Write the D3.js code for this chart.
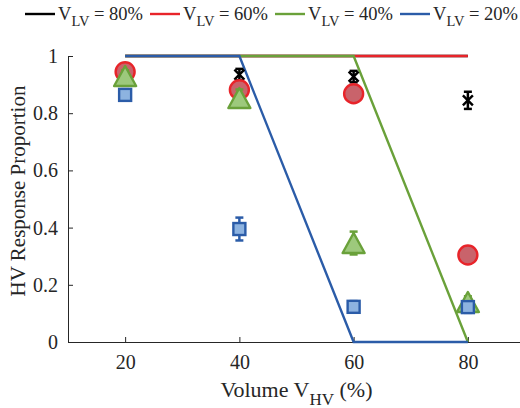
<!DOCTYPE html>
<html>
<head>
<meta charset="utf-8">
<script src="https://cdn.jsdelivr.net/npm/d3@7"></script>
<style>
  body { margin: 0; background: #fff; }
  text { font-family: "Liberation Serif", "Times New Roman", serif; fill: #262626; }
</style>
</head>
<body>
<div id="chart"></div>
<script>
// data
let volumes = [20, 40, 60, 80];
let seriesNames = ["80%", "60%", "40%", "20%"];

// model lines (step-down curves)
let line80 = [1, 1, 1, 1];
let line60 = [1, 1, 1, 1];
let line40 = [1, 1, 1, 0];
let line20 = [1, 1, 0, 0];

// measured proportions
let resp80 = [0.95, 0.935, 0.928, 0.845];
let resp60 = [0.945, 0.882, 0.868, 0.304];
let resp40 = [0.93, 0.853, 0.346, 0.14];
let resp20 = [0.864, 0.395, 0.123, 0.122];

// error bar half widths
let err80 = [0.02, 0.02, 0.02, 0.03];
let err60 = [0.02, 0.02, 0.02, 0.03];
let err40 = [0.02, 0.03, 0.04, 0.02];
let err20 = [0.02, 0.04, 0.02, 0.02];

let yTicks = [0, 0.2, 0.4, 0.6, 0.8, 1];

let series = [
  {name: seriesNames[0], line: line80, resp: resp80, err: err80, color: "#000000", fill: "none", marker: "x"},
  {name: seriesNames[1], line: line60, resp: resp60, err: err60, color: "#e8242a", fill: "#c9636b", marker: "circle"},
  {name: seriesNames[2], line: line40, resp: resp40, err: err40, color: "#6aa13a", fill: "#9dc97c", marker: "triangle"},
  {name: seriesNames[3], line: line20, resp: resp20, err: err20, color: "#2b5ca8", fill: "#8db3e0", marker: "square"}
];

let W = 520, H = 408;
let svg = d3.select("#chart").append("svg")
    .attr("width", W).attr("height", H);

let x = d3.scaleLinear().domain([10, 90]).range([68, 525]);
let y = d3.scaleLinear().domain([0, 1]).range([342, 56]);

// axes (MATLAB style, ticks inward, no box)
let axisColor = "#262626";
let xAxis = svg.append("g")
    .attr("transform", "translate(0," + y(0) + ")")
    .call(d3.axisBottom(x).tickValues(volumes).tickSize(-5).tickPadding(13));
let yAxis = svg.append("g")
    .attr("transform", "translate(" + x(10) + ",0)")
    .call(d3.axisLeft(y).tickValues(yTicks).tickFormat(d3.format("")).tickSize(-5).tickPadding(10));

[xAxis, yAxis].forEach(function(a) {
  a.select(".domain").attr("stroke", axisColor).attr("stroke-width", 1);
  a.selectAll(".tick line").attr("stroke", axisColor);
  a.selectAll(".tick text")
    .style("font-family", "Liberation Serif, serif")
    .style("font-size", "20px")
    .attr("fill", axisColor);
});
// x tick text sits a bit lower
xAxis.selectAll(".tick text").attr("dy", "0.71em");

// lines
let lineGen = d3.line()
    .x(function(d, i) { return x(volumes[i]); })
    .y(function(d) { return y(d); });

series.forEach(function(s) {
  svg.append("path")
    .datum(s.line)
    .attr("d", lineGen)
    .attr("fill", "none")
    .attr("stroke", s.color)
    .attr("stroke-width", 2.4);
});

// markers with error bars
let capW = 4;
series.forEach(function(s) {
  let g = svg.append("g");
  s.resp.forEach(function(v, i) {
    let cx = x(volumes[i]), cy = y(v);
    let top = y(v + s.err[i]), bot = y(v - s.err[i]);
    let eb = g.append("g").attr("stroke", s.color).attr("stroke-width", 2.5);
    eb.append("line").attr("x1", cx).attr("x2", cx).attr("y1", top).attr("y2", bot);
    eb.append("line").attr("x1", cx - capW).attr("x2", cx + capW).attr("y1", top).attr("y2", top);
    eb.append("line").attr("x1", cx - capW).attr("x2", cx + capW).attr("y1", bot).attr("y2", bot);

    if (s.marker == "circle") {
      g.append("circle").attr("cx", cx).attr("cy", cy).attr("r", 9.5)
        .attr("fill", s.fill).attr("stroke", s.color).attr("stroke-width", 2.4);
    } else if (s.marker == "triangle") {
      let hw = 11, hh = 10;
      g.append("path")
        .attr("d", "M" + cx + "," + (cy - hh) + " L" + (cx + hw) + "," + (cy + hh) + " L" + (cx - hw) + "," + (cy + hh) + "Z")
        .attr("fill", s.fill).attr("stroke", s.color).attr("stroke-width", 2.4).attr("stroke-linejoin", "round");
    } else if (s.marker == "square") {
      g.append("rect").attr("x", cx - 6).attr("y", cy - 6).attr("width", 12).attr("height", 12)
        .attr("fill", s.fill).attr("stroke", s.color).attr("stroke-width", 2.4);
    } else {
      let k = 5;
      g.append("path")
        .attr("d", "M" + (cx - k) + "," + (cy - k) + " L" + (cx + k) + "," + (cy + k) +
                   " M" + (cx + k) + "," + (cy - k) + " L" + (cx - k) + "," + (cy + k))
        .attr("stroke", s.color).attr("stroke-width", 2.4);
    }
  });
});

// axis labels
svg.append("text")
  .attr("transform", "translate(25,191) rotate(-90)")
  .attr("text-anchor", "middle")
  .style("font-size", "21px")
  .text("HV Response Proportion");

let xl = svg.append("text")
  .attr("x", (x(10) + 525) / 2)
  .attr("y", 397)
  .attr("text-anchor", "middle")
  .style("font-size", "22px");
xl.append("tspan").text("Volume V");
xl.append("tspan").attr("dy", 8).style("font-size", "17px").text("HV");
xl.append("tspan").attr("dy", -8).text(" (%)");

// legend on top
let legendX = [25, 150, 275, 400];
series.forEach(function(s, i) {
  let lx = legendX[i];
  svg.append("line")
    .attr("x1", lx).attr("x2", lx + 30)
    .attr("y1", 14).attr("y2", 14)
    .attr("stroke", s.color).attr("stroke-width", 2.4);
  let t = svg.append("text")
    .attr("x", lx + 33)
    .attr("y", 20)
    .style("font-size", "18.5px");
  t.append("tspan").text("V");
  t.append("tspan").attr("dy", 6).style("font-size", "14.5px").text("LV");
  t.append("tspan").attr("dy", -6).text(" = " + s.name);
});
</script>
</body>
</html>
